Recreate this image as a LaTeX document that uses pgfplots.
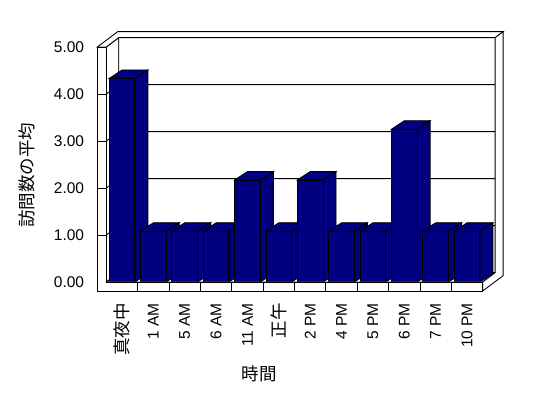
\documentclass[border=0pt]{standalone}
\usepackage{pgfplots}
\usepackage{pgfplotstable}
\pgfplotsset{compat=1.18}
\usepackage{fontspec}
\setmainfont{Liberation Sans}
\newfontfamily\cjk{Noto Sans CJK JP}
\definecolor{barblue}{RGB}{0,0,128}
\pgfdeclareplotmark{nothing}{}
\pgfplotstableread{
x v
0 4.33
1 1.08
2 1.08
3 1.08
4 2.17
5 1.08
6 2.17
7 1.08
8 1.08
9 3.25
10 1.08
11 1.08
}\datatable
\begin{document}
\begin{tikzpicture}
\useasboundingbox (0,0) rectangle (548pt,398pt);
\begin{scope}[x=1pt,y=1pt,line width=0.9pt]
% back wall inner face
\filldraw[fill=white] (118.7,125.3) rectangle (495.1,360.3);
% left wall inner face
\filldraw[fill=white] (106.3,116) -- (106.3,351) -- (118.7,360.3) -- (118.7,125.3) -- cycle;
% floor top face
\filldraw[fill=white] (106.3,116) -- (482.7,116) -- (495.1,125.3) -- (118.7,125.3) -- cycle;
% top faces of walls
\filldraw[fill=white] (97.3,351) -- (117.7,366.3) -- (503.1,366.3) -- (495.1,360.3) -- (118.7,360.3) -- (106.3,351) -- cycle;
% right faces of back wall and floor
\filldraw[fill=white] (482.7,107) -- (503.1,122.3) -- (503.1,366.3) -- (495.1,360.3) -- (495.1,125.3) -- (482.7,116) -- cycle;
% gridlines
\foreach \k in {1,...,4} {
  \draw (106.3,116+47*\k) -- (118.7,125.3+47*\k) -- (495.1,125.3+47*\k);
}
\end{scope}
\begin{axis}[
  at={(106.3pt,116pt)}, anchor=south west,
  scale only axis, width=376.4pt, height=235pt,
  xmin=-0.5, xmax=11.5, ymin=0, ymax=5,
  enlargelimits=false,
  clip=false,
  axis line style={draw=none},
  major tick length=0pt,
  xtick={0,...,11},
  xticklabels={{\cjk\fontsize{17.5}{20}\selectfont 真夜中},1 AM,5 AM,6 AM,11 AM,{\cjk\fontsize{17.5}{20}\selectfont 正午},2 PM,4 PM,5 PM,6 PM,7 PM,10 PM},
  ytick={0,1,2,3,4,5},
  tick label style={font=\fontsize{15.5}{18}\selectfont, text=black},
  xticklabel style={rotate=90, anchor=east, inner sep=0pt},
  xticklabel shift=21pt,
  yticklabel style={anchor=east, inner sep=0pt},
  yticklabel shift=22pt,
  /pgf/number format/fixed,
  /pgf/number format/fixed zerofill,
  /pgf/number format/precision=2,
  /pgf/number format/assume math mode=true,
  every axis x label/.style={at={(rel axis cs:0.4057,-0.390)}, anchor=center, font=\cjk\fontsize{17.5}{20}\selectfont},
  every axis y label/.style={at={(rel axis cs:-0.2115,0.455)}, anchor=center, rotate=90, font=\cjk\fontsize{17.5}{20}\selectfont},
  xlabel={時間},
  ylabel={訪問数の平均},
]
% each bar drawn as a box: side face, top face, front face
\addplot[scatter, only marks, mark=nothing,
  visualization depends on={\thisrow{v} \as \rawy},
  scatter/@pre marker code/.code={%
    \pgfmathsetmacro\h{\rawy*47}%
    \filldraw[fill=barblue, draw=black, line width=0.9pt]
      (12.85pt,0pt) -- (25.85pt,8.5pt) -- (25.85pt,{8.5pt-\h pt}) -- (12.85pt,{0pt-\h pt}) -- cycle;
    \filldraw[fill=barblue, draw=black, line width=0.9pt]
      (-12.85pt,0pt) -- (0.15pt,8.5pt) -- (25.85pt,8.5pt) -- (12.85pt,0pt) -- cycle;
    \filldraw[fill=barblue, draw=black, line width=0.9pt]
      (-12.85pt,0pt) rectangle (12.85pt,{0pt-\h pt});
  },
  scatter/@post marker code/.code={}
] table[x=x, y=v] {\datatable};
\end{axis}
\begin{scope}[x=1pt,y=1pt,line width=0.9pt]
% front faces of the left wall and floor
\filldraw[fill=white] (97.3,107) -- (482.7,107) -- (482.7,116) -- (106.3,116) -- (106.3,351) -- (97.3,351) -- cycle;
\foreach \k in {1,...,11} { \draw (106.3+31.3667*\k,107) -- (106.3+31.3667*\k,116); }
\foreach \k in {1,...,4} { \draw (97.3,116+47*\k) -- (106.3,116+47*\k); }
\end{scope}
\end{tikzpicture}
\end{document}
